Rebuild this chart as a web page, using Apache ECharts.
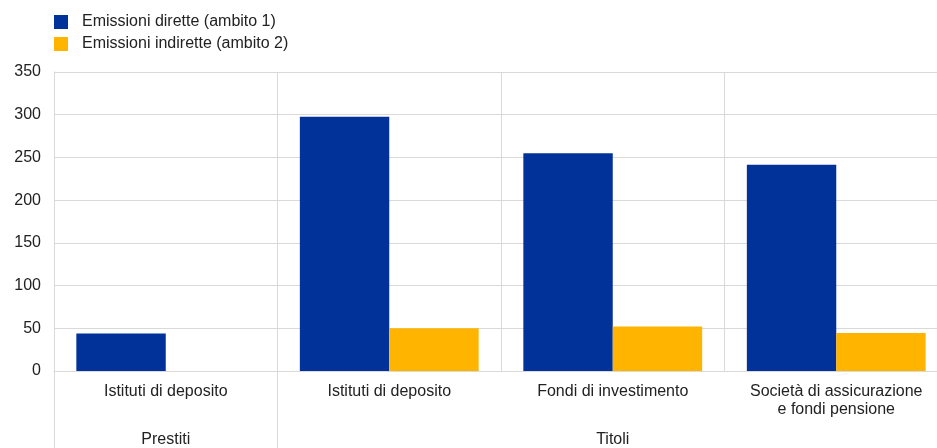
<!DOCTYPE html>
<html>
<head>
<meta charset="utf-8">
<script src="https://cdn.jsdelivr.net/npm/echarts@6/dist/echarts.min.js"></script>
<style>html,body{margin:0;padding:0;background:#fff}#c{width:937px;height:448px}</style>
</head>
<body>
<div id="c"></div>
<script>
var categories = ['Istituti di deposito', 'Istituti di deposito', 'Fondi di investimento', 'Società di assicurazione\ne fondi pensione'];
var groupLabels = ['Prestiti', '', 'Titoli', ''];
var seriesNames = ['Emissioni dirette (ambito 1)', 'Emissioni indirette (ambito 2)'];
var direct = [44, 297.5, 255, 241.5];
var indirect = [null, 50, 52, 44.5];
var yTicks = {min: 0, max: 350, interval: 50};

var font = "'Liberation Sans', Arial, sans-serif";
var chart = echarts.init(document.getElementById('c'), null, {renderer: 'canvas'});
chart.setOption({
  animation: false,
  textStyle: {fontFamily: font},
  legend: {
    orient: 'vertical', left: 49, top: 9, itemWidth: 14, itemHeight: 14, itemGap: 6,
    icon: 'rect',
    textStyle: {fontSize: 16, color: '#222', fontFamily: font, padding: [0, 0, 0, 9]},
    data: seriesNames
  },
  grid: {left: 54, right: -11, top: 72, bottom: 77, containLabel: false, outerBoundsMode: 'none'},
  xAxis: [{
    type: 'category', data: categories, position: 'bottom',
    axisLine: {show: true, lineStyle: {color: '#d9d9d9'}},
    axisTick: {show: false},
    splitLine: {show: true, lineStyle: {color: '#d9d9d9'}},
    axisLabel: {fontSize: 16, color: '#222', margin: 12, lineHeight: 18, fontFamily: font, interval: 0}
  }, {
    type: 'category', data: groupLabels, position: 'bottom',
    axisLine: {show: false},
    axisTick: {show: true, length: 80, lineStyle: {color: '#d9d9d9'},
      interval: function (idx) { return idx === 0 || idx === 1; }},
    axisLabel: {fontSize: 16, color: '#222', margin: 61, fontFamily: font, interval: 0},
    splitLine: {show: false}
  }],
  yAxis: {
    type: 'value', min: yTicks.min, max: yTicks.max, interval: yTicks.interval,
    axisLine: {show: true, lineStyle: {color: '#d9d9d9'}},
    axisTick: {show: false},
    splitLine: {show: true, lineStyle: {color: '#d9d9d9'}},
    axisLabel: {fontSize: 16, color: '#222', margin: 13, fontFamily: font}
  },
  series: [{
    name: seriesNames[0], type: 'bar', data: direct, barGap: '0%', barCategoryGap: '20%',
    itemStyle: {color: '#003299'}
  }, {
    name: seriesNames[1], type: 'bar', data: indirect, barGap: '0%', barCategoryGap: '20%',
    itemStyle: {color: '#ffb400'}
  }]
});
</script>
</body>
</html>
